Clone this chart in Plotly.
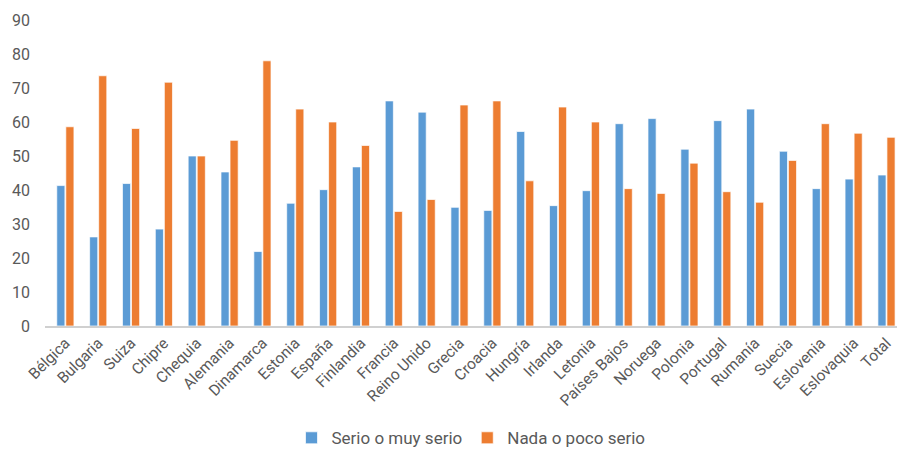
import plotly.graph_objects as go

# Country categories and survey shares (%)
paises = ["Bélgica", "Bulgaria", "Suiza", "Chipre", "Chequia", "Alemania",
          "Dinamarca", "Estonia", "España", "Finlandia", "Francia",
          "Reino Unido", "Grecia", "Croacia", "Hungría", "Irlanda", "Letonia",
          "Países Bajos", "Noruega", "Polonia", "Portugal", "Rumanía",
          "Suecia", "Eslovenia", "Eslovaquia", "Total"]

serio = [41.3, 26.2, 41.9, 28.5, 50.0, 45.3, 21.9, 36.1, 40.1, 46.8, 66.2,
         62.9, 34.9, 34.0, 57.2, 35.4, 39.8, 59.5, 61.0, 52.0, 60.4, 63.8,
         51.4, 40.4, 43.2, 44.4]

poco_serio = [58.6, 73.6, 58.1, 71.7, 50.0, 54.6, 78.0, 63.8, 60.0, 53.1,
              33.7, 37.2, 65.0, 66.2, 42.7, 64.4, 60.0, 40.4, 39.0, 47.9,
              39.5, 36.4, 48.7, 59.5, 56.7, 55.5]

y_ticks = [0, 10, 20, 30, 40, 50, 60, 70, 80, 90]

AZUL = "#5B9BD5"
NARANJA = "#ED7D31"
GRIS_TEXTO = "#595959"

fig = go.Figure()
fig.add_trace(go.Bar(
    x=paises, y=serio, name="Serio o muy serio",
    marker=dict(color=AZUL, line=dict(color="rgba(255,255,255,0.7)", width=1)),
))
fig.add_trace(go.Bar(
    x=paises, y=poco_serio, name="Nada o poco serio",
    marker=dict(color=NARANJA, line=dict(color="rgba(255,255,255,0.7)", width=1)),
))

fig.update_layout(
    width=897, height=450,
    margin=dict(l=45, r=0, t=20, b=124, autoexpand=False),
    paper_bgcolor="white", plot_bgcolor="white",
    barmode="group", bargap=0.45, bargroupgap=0.1,
    font=dict(family="Roboto, 'Open Sans', sans-serif", color=GRIS_TEXTO),
    showlegend=True,
    legend=dict(orientation="h", x=0.5, xanchor="center", y=-0.308,
                yanchor="top", font=dict(size=17, color=GRIS_TEXTO),
                itemwidth=30, traceorder="normal"),
    xaxis=dict(
        type="category", range=[-0.62, 25.32], automargin=False,
        tickangle=-45, tickfont=dict(size=15.5, color=GRIS_TEXTO),
        showline=True, linecolor="#D0D0D0", linewidth=2,
        showgrid=False, ticks="", zeroline=False,
    ),
    yaxis=dict(
        range=[0, 90], tickvals=y_ticks, ticktext=[str(v) for v in y_ticks],
        tickfont=dict(size=16, color=GRIS_TEXTO), automargin=False,
        showgrid=False, zeroline=False, showline=False, ticks="",
        ticklabelstandoff=14,
    ),
)

fig.write_html("out.html")
